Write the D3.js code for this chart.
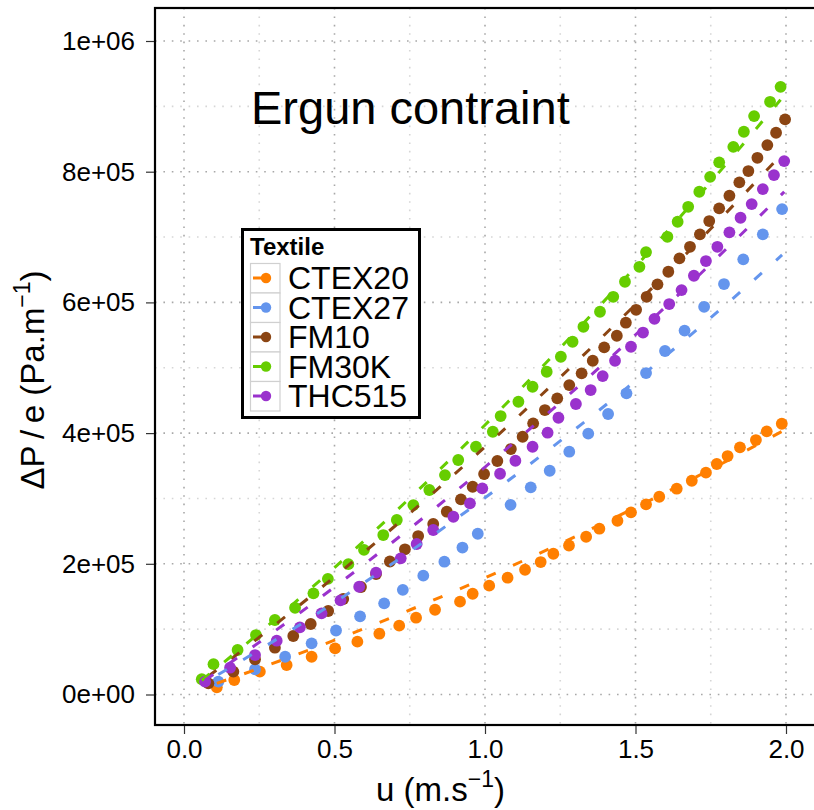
<!DOCTYPE html>
<html><head><meta charset="utf-8">
<script src="https://cdn.jsdelivr.net/npm/d3@7"></script>
<style>
body{margin:0;background:#fff;}
svg{display:block;}
text{font-family:"Liberation Sans",Arial,Helvetica,sans-serif;fill:#000;}
</style>
</head><body>
<svg id="c" width="814" height="810"></svg>
<script>
// ---------- data ----------
const textiles = ["CTEX20","CTEX27","FM10","FM30K","THC515"];
const colors   = ["#FF7F00","#6495ED","#8B4513","#66CD00","#9A32CD"];

const xTicks = [0, 0.5, 1, 1.5, 2];
const xTickLabels = ["0.0","0.5","1.0","1.5","2.0"];
const xMinor = [0.25, 0.75, 1.25, 1.75];
const yTicks = [0, 2e5, 4e5, 6e5, 8e5, 1e6];
const yTickLabels = ["0e+00","2e+05","4e+05","6e+05","8e+05","1e+06"];
const yMinor = [1e5, 3e5, 5e5, 7e5, 9e5];

// measured points: velocity u (m/s) and dP/e (Pa/m)
const u_CTEX20 = [0.109,0.167,0.252,0.341,0.424,0.502,0.576,0.649,0.715,0.771,0.834,0.917,0.959,1.014,1.075,1.133,1.185,1.227,1.279,1.336,1.380,1.440,1.485,1.535,1.579,1.637,1.687,1.734,1.770,1.806,1.847,1.900,1.936,1.986];
const dp_CTEX20 = [11000,22200,34900,45100,57800,70700,80800,93000,105300,117500,129700,142000,154200,166500,178700,190900,202700,215400,228000,241400,253700,265900,278800,291000,302600,314900,327100,339400,352700,364900,378200,389400,402700,414300];

const u_CTEX27 = [0.114,0.236,0.336,0.424,0.505,0.585,0.665,0.727,0.795,0.865,0.925,0.976,1.085,1.152,1.215,1.280,1.343,1.409,1.470,1.535,1.598,1.663,1.728,1.794,1.858,1.923,1.987];
const dp_CTEX27 = [19600,38600,57800,78300,97900,119600,139500,160200,181800,203200,224900,246000,290200,317000,342400,371500,399300,429200,460800,491900,525600,556900,593300,628100,665900,704100,742800];

const u_FM10 = [0.081,0.164,0.236,0.302,0.363,0.421,0.479,0.529,0.588,0.638,0.684,0.734,0.778,0.828,0.873,0.920,0.959,0.997,1.041,1.086,1.125,1.160,1.199,1.240,1.280,1.321,1.358,1.396,1.438,1.468,1.502,1.537,1.573,1.609,1.646,1.681,1.714,1.745,1.778,1.812,1.845,1.875,1.905,1.938,1.967,1.997];
const dp_FM10 = [17100,34900,53900,71600,89500,107900,127800,146100,164500,184400,203500,222200,242500,260900,279700,298700,317900,337400,357300,375600,394400,414900,435300,453200,473500,491400,510700,531200,549000,568900,588700,608600,627600,646900,667400,685100,704100,724500,743900,763200,783700,801000,821300,840700,859600,880100];

const u_FM30K = [0.059,0.098,0.178,0.239,0.302,0.369,0.430,0.478,0.546,0.598,0.662,0.707,0.762,0.815,0.867,0.911,0.970,1.026,1.052,1.111,1.158,1.205,1.252,1.291,1.327,1.382,1.426,1.465,1.513,1.535,1.606,1.640,1.675,1.712,1.748,1.778,1.825,1.860,1.894,1.947,1.982];
const dp_FM30K = [23300,46400,68100,91000,114000,132700,154800,177000,199400,221400,244000,267000,289900,312900,335800,358800,379100,402100,426100,448000,470900,493900,516800,539800,562700,585700,608600,631600,654500,677000,700400,723400,746300,769300,792200,814300,838100,861100,885100,907000,929900];

const u_THC515 = [0.070,0.153,0.236,0.308,0.385,0.457,0.520,0.582,0.638,0.720,0.773,0.828,0.895,0.950,0.991,1.050,1.101,1.158,1.208,1.244,1.302,1.351,1.391,1.432,1.485,1.525,1.563,1.612,1.653,1.694,1.734,1.772,1.812,1.849,1.886,1.923,1.960,1.994];
const dp_THC515 = [19600,41000,60400,82300,102800,124200,144100,164900,186400,208400,230300,251700,272000,292500,315500,337800,357700,379100,400600,423500,444500,465900,487300,510700,532100,553900,574800,597500,618900,640800,663300,685100,707200,729500,750500,773400,794800,816300];

// Ergun fit curves (dashed)
const fitU_CTEX20 = [0.109,0.25,0.5,0.75,1.0,1.25,1.5,1.75,1.986];
const fit_CTEX20  = [17100,40000,83100,129300,178500,230800,286100,344500,402500];
const fitU_CTEX27 = [0.114,0.25,0.5,0.75,1.0,1.25,1.5,1.75,1.987];
const fit_CTEX27  = [30500,68100,141000,218600,301000,388100,480000,576600,672600];
const fitU_FM10   = [0.081,0.25,0.5,0.75,1.0,1.25,1.5,1.75,1.997];
const fit_FM10    = [27900,87700,180100,277200,379000,485500,596800,712700,831900];
const fitU_FM30K  = [0.059,0.25,0.5,0.75,1.0,1.25,1.5,1.75,1.982];
const fit_FM30K   = [21700,94200,194300,300400,412400,530400,654400,784300,910200];
const fitU_THC515 = [0.070,0.25,0.5,0.75,1.0,1.25,1.5,1.75,1.994];
const fit_THC515  = [21900,79900,164500,253900,348000,446900,550500,658900,769200];

const series = [
  {name:"CTEX20", u:u_CTEX20, v:dp_CTEX20, fu:fitU_CTEX20, fv:fit_CTEX20},
  {name:"CTEX27", u:u_CTEX27, v:dp_CTEX27, fu:fitU_CTEX27, fv:fit_CTEX27},
  {name:"FM10",   u:u_FM10,   v:dp_FM10,   fu:fitU_FM10,   fv:fit_FM10},
  {name:"FM30K",  u:u_FM30K,  v:dp_FM30K,  fu:fitU_FM30K,  fv:fit_FM30K},
  {name:"THC515", u:u_THC515, v:dp_THC515, fu:fitU_THC515, fv:fit_THC515}
];

// ---------- drawing ----------
const svg = d3.select("#c");
const P = {left:155, top:8, right:816, bottom:725};
const x = d3.scaleLinear().domain([0,2]).range([184,786]);
const y = d3.scaleLinear().domain([0,1e6]).range([694.5,41]);
const color = d3.scaleOrdinal().domain(textiles).range(colors);

svg.append("rect").attr("width",814).attr("height",810).attr("fill","#fff");

const g = svg.append("g");
g.append("clipPath").attr("id","clip").append("rect")
  .attr("x",P.left).attr("y",P.top).attr("width",P.right-P.left).attr("height",P.bottom-P.top);

// grid
const grid = g.append("g");
function vline(v, col){ grid.append("line").attr("x1",x(v)).attr("x2",x(v)).attr("y1",P.top).attr("y2",P.bottom)
  .attr("stroke",col).attr("stroke-width",1.6).attr("stroke-dasharray","1.6,6.8"); }
function hline(v, col){ grid.append("line").attr("y1",y(v)).attr("y2",y(v)).attr("x1",P.left).attr("x2",P.right)
  .attr("stroke",col).attr("stroke-width",1.6).attr("stroke-dasharray","1.6,6.8"); }
xMinor.forEach(v=>vline(v,"#d6d6d6"));
yMinor.forEach(v=>hline(v,"#d6d6d6"));
xTicks.forEach(v=>vline(v,"#a8a8a8"));
yTicks.forEach(v=>hline(v,"#a8a8a8"));

// points
const plot = g.append("g").attr("clip-path","url(#clip)");
series.forEach(s=>{
  plot.append("g").selectAll("circle").data(s.u.map((u,i)=>[u,s.v[i]])).join("circle")
    .attr("cx",d=>x(d[0])).attr("cy",d=>y(d[1])).attr("r",5.9).attr("fill",color(s.name));
});
// dashed fit lines
const line = d3.line().x(d=>x(d[0])).y(d=>y(d[1])).curve(d3.curveMonotoneX);
series.forEach(s=>{
  plot.append("path").datum(s.fu.map((u,i)=>[u,s.fv[i]])).attr("d",line)
    .attr("fill","none").attr("stroke",color(s.name)).attr("stroke-width",3)
    .attr("stroke-dasharray","10,19");
});

// panel border
g.append("rect").attr("x",P.left).attr("y",P.top).attr("width",P.right-P.left).attr("height",P.bottom-P.top)
  .attr("fill","none").attr("stroke","#000").attr("stroke-width",2.2);

// axes
const xAxis = d3.axisBottom(x).tickValues(xTicks).tickFormat((d,i)=>xTickLabels[i]).tickSize(8).tickPadding(6);
const ax = svg.append("g").attr("transform",`translate(0,${P.bottom+1})`).call(xAxis);
ax.select(".domain").remove();
ax.selectAll("line").attr("stroke","#333").attr("stroke-width",1.2);
ax.selectAll("text").attr("font-size",26).attr("fill","#000").attr("font-family","Liberation Sans, Arial, sans-serif");

const yAxis = d3.axisLeft(y).tickValues(yTicks).tickFormat((d,i)=>yTickLabels[i]).tickSize(8).tickPadding(11);
const ay = svg.append("g").attr("transform",`translate(${P.left-1},0)`).call(yAxis);
ay.select(".domain").remove();
ay.selectAll("line").attr("stroke","#333").attr("stroke-width",1.2);
ay.selectAll("text").attr("font-size",26).attr("fill","#000").attr("font-family","Liberation Sans, Arial, sans-serif");

// axis titles
const xt = svg.append("text").attr("x",505).attr("y",801).attr("text-anchor","end").attr("font-size",33);
xt.append("tspan").text("u (m.s");
xt.append("tspan").attr("dy",-14).attr("font-size",23).text("\u22121");
xt.append("tspan").attr("dy",14).text(")");

const yt = svg.append("text").attr("transform","translate(44,380) rotate(-90)").attr("text-anchor","middle").attr("font-size",33);
yt.append("tspan").text("\u0394P\u2009/\u2009e (Pa.m");
yt.append("tspan").attr("dy",-14).attr("font-size",23).text("\u22121");
yt.append("tspan").attr("dy",14).text(")");

// title
svg.append("text").attr("x",251).attr("y",124).attr("font-size",47).text("Ergun contraint");

// legend
const L = svg.append("g");
L.append("rect").attr("x",242.5).attr("y",229.5).attr("width",177).attr("height",188)
  .attr("fill","#fff").attr("stroke","#000").attr("stroke-width",3);
L.append("text").attr("x",250).attr("y",255).attr("font-size",24).attr("font-weight","bold").text("Textile");
textiles.forEach((t,i)=>{
  const cy = 278 + i*29.5;
  L.append("rect").attr("x",250.5).attr("y",cy-14.5).attr("width",29.5).attr("height",29.5)
    .attr("fill","#fff").attr("stroke","#d0d0d0").attr("stroke-width",1.2);
  L.append("line").attr("x1",253).attr("x2",264).attr("y1",cy).attr("y2",cy)
    .attr("stroke",color(t)).attr("stroke-width",3);
  L.append("circle").attr("cx",266).attr("cy",cy).attr("r",5.2).attr("fill",color(t));
  L.append("text").attr("x",288).attr("y",cy+11).attr("font-size",32).text(t);
});
</script>
</body></html>
